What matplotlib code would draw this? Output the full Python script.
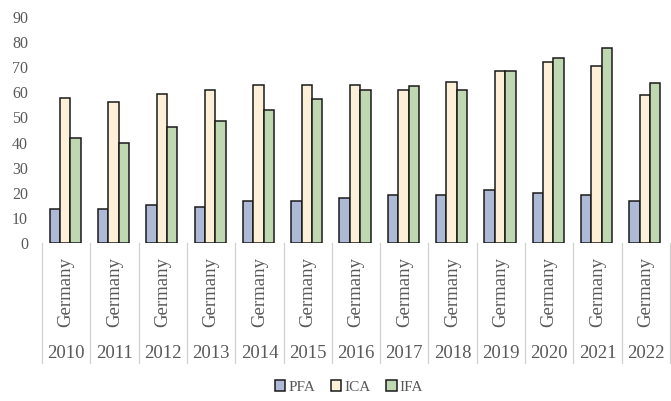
import matplotlib
matplotlib.use("Agg")
import matplotlib.pyplot as plt
import matplotlib.transforms as mtransforms
from matplotlib.patches import Patch
import numpy as np

years = ["2010", "2011", "2012", "2013", "2014", "2015", "2016",
         "2017", "2018", "2019", "2020", "2021", "2022"]
country = "Germany"
series_names = ["PFA", "ICA", "IFA"]
pfa = [13.5, 13.5, 15.1, 14.5, 16.7, 16.7, 18.0, 19.0, 19.0, 21.1, 19.9, 19.1, 16.7]
ica = [57.7, 56.3, 59.2, 60.8, 63.0, 63.0, 63.0, 61.0, 64.1, 68.3, 72.1, 70.5, 59.0]
ifa = [42.0, 40.0, 46.1, 48.7, 52.9, 57.2, 60.8, 62.4, 60.8, 68.3, 73.6, 77.6, 63.7]
yticks = [0, 10, 20, 30, 40, 50, 60, 70, 80, 90]

colors = ["#aeb9d6", "#fdf0d8", "#c0d8b2"]
edge = "#1a1a1a"
txt = "#595959"
serif = ["Liberation Serif", "DejaVu Serif"]

fig = plt.figure(figsize=(6.71, 4.01), dpi=100)
ax = fig.add_axes([42/671, 1-243/401, 628/671, 226/401])

x = np.arange(len(years))
w = 0.215
for i, (vals, c) in enumerate(zip([pfa, ica, ifa], colors)):
    ax.bar(x + (i - 1) * w - 0.02, vals, width=w, color=c, edgecolor=edge,
           linewidth=1.1, label=series_names[i], zorder=3)

ax.set_xlim(-0.5, len(years) - 0.5)
ax.set_ylim(0, 90)
ax.set_yticks(yticks)
ax.set_yticklabels([str(t) for t in yticks], fontfamily=serif, fontsize=11.5, color=txt)
ax.tick_params(axis="y", length=0, pad=10)
ax.set_xticks([])
for s in ax.spines.values():
    s.set_visible(False)

trans = mtransforms.blended_transform_factory(ax.transData, ax.transAxes)
for b in np.arange(len(years) + 1) - 0.5:
    ax.plot([b, b], [0, -0.53], transform=trans, color="#d0d0d0", lw=0.9, clip_on=False)
for xi, yr in zip(x, years):
    ax.text(xi, -0.215, country, transform=trans, rotation=90, ha="center", va="center",
            fontfamily=serif, fontsize=13.5, color=txt)
    ax.text(xi, -0.487, yr, transform=trans, ha="center", va="center",
            fontfamily=serif, fontsize=13.5, color=txt)

handles = [Patch(facecolor=c, edgecolor=edge, linewidth=1.1) for c in colors]
fig.legend(handles, series_names, loc="center", bbox_to_anchor=(349/671, 1-387/401),
           ncol=3, frameon=False, prop={"family": serif, "size": 11},
           handlelength=0.7, handleheight=0.7, handletextpad=0.2, columnspacing=1.0,
           labelcolor=txt)

fig.savefig("out.png", dpi=100)
